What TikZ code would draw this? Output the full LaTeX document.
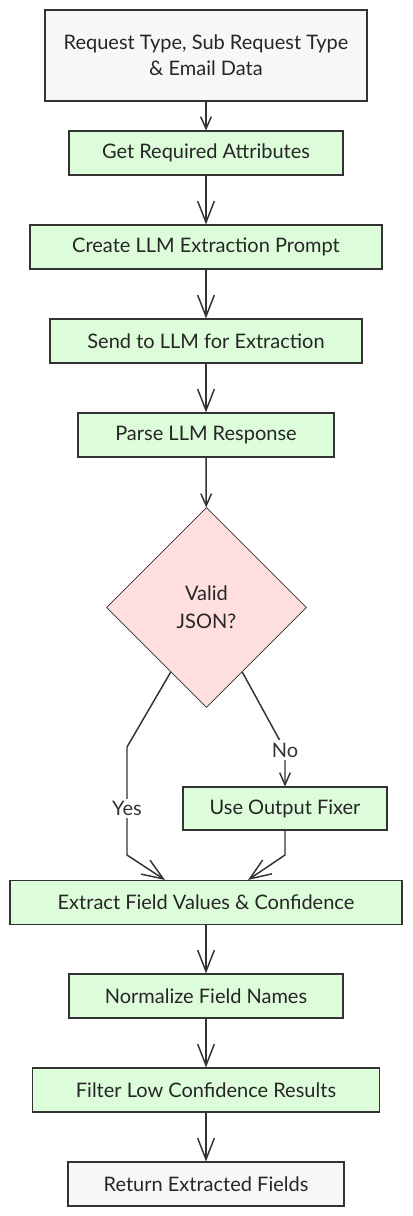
\documentclass[tikz,border=0pt]{standalone}
\usepackage{fontspec}
\setmainfont{Lato}
\usetikzlibrary{arrows.meta,shapes.geometric}

\definecolor{line}{HTML}{333333}
\definecolor{stepgreen}{HTML}{DDFCD9}
\definecolor{endgray}{HTML}{F7F7F7}
\definecolor{decpink}{HTML}{FFDEDE}

\tikzset{
  box/.style={draw=line,line width=0.8pt,fill=stepgreen,minimum height=33pt,
    inner sep=0pt,align=center,text=black!85,font=\fontsize{15}{19.5}\selectfont},
  endbox/.style={box,fill=endgray},
  decision/.style={diamond,draw=line,line width=0.6pt,fill=decpink,
    minimum width=150pt,minimum height=150pt,inner sep=0pt,align=center,
    text=black!85,font=\fontsize{15}{21}\selectfont},
  link/.style={draw=line,line width=1.1pt,
    -{Straight Barb[length=16pt,width=12.5pt,line width=1.1pt]}},
  shortlink/.style={link,-{Straight Barb[length=9pt,width=8pt,line width=1.1pt]}},
  lbl/.style={fill=white,inner sep=2pt,text=line,font=\fontsize{15}{18}\selectfont}
}

\begin{document}
\begin{tikzpicture}[x=0.75pt,y=-0.75pt]
  \useasboundingbox (0,0) rectangle (412,1216);

  % main column
  \node[endbox,minimum width=241.5pt,minimum height=68.25pt] (input) at (206,55.5)
    {Request Type, Sub Request Type\\\& Email Data};
  \node[box,minimum width=205.5pt] (attrs) at (206,153) {Get Required Attributes};
  \node[box,minimum width=264pt] (prompt) at (206,247) {Create LLM Extraction Prompt};
  \node[box,minimum width=234pt] (send) at (206,341) {Send to LLM for Extraction};
  \node[box,minimum width=192pt] (parse) at (206,435) {Parse LLM Response};
  \node[decision] (valid) at (206.5,607.5) {Valid\\JSON?};
  \node[box,minimum width=153pt,minimum height=32.25pt] (fixer) at (285,808.5) {Use Output Fixer};
  \node[box,minimum width=294pt] (extract) at (206,902.5) {Extract Field Values \& Confidence};
  \node[box,minimum width=205.5pt] (normalize) at (206,996) {Normalize Field Names};
  \node[box,minimum width=260.25pt] (filter) at (206,1090) {Filter Low Confidence Results};
  \node[endbox,minimum width=207pt] (result) at (206,1184) {Return Extracted Fields};

  \draw[shortlink] (input) -- (attrs);
  \draw[link] (attrs) -- (prompt);
  \draw[link] (prompt) -- (send);
  \draw[link] (send) -- (parse);
  \draw[shortlink] (parse) -- (valid);

  % branches
  \draw[link] (valid.241) -- (127,747) -- node[lbl,pos=0.57] {Yes} (127,855)
    -- ([xshift=-30.75pt]extract.north);
  \draw[shortlink] (valid.-61) -- (285,750) node[lbl] {No} -- (fixer);
  \draw[link] (fixer) -- (285,855) -- ([xshift=31.5pt]extract.north);

  \draw[link] (extract) -- (normalize);
  \draw[link] (normalize) -- (filter);
  \draw[link] (filter) -- (result);
\end{tikzpicture}
\end{document}
